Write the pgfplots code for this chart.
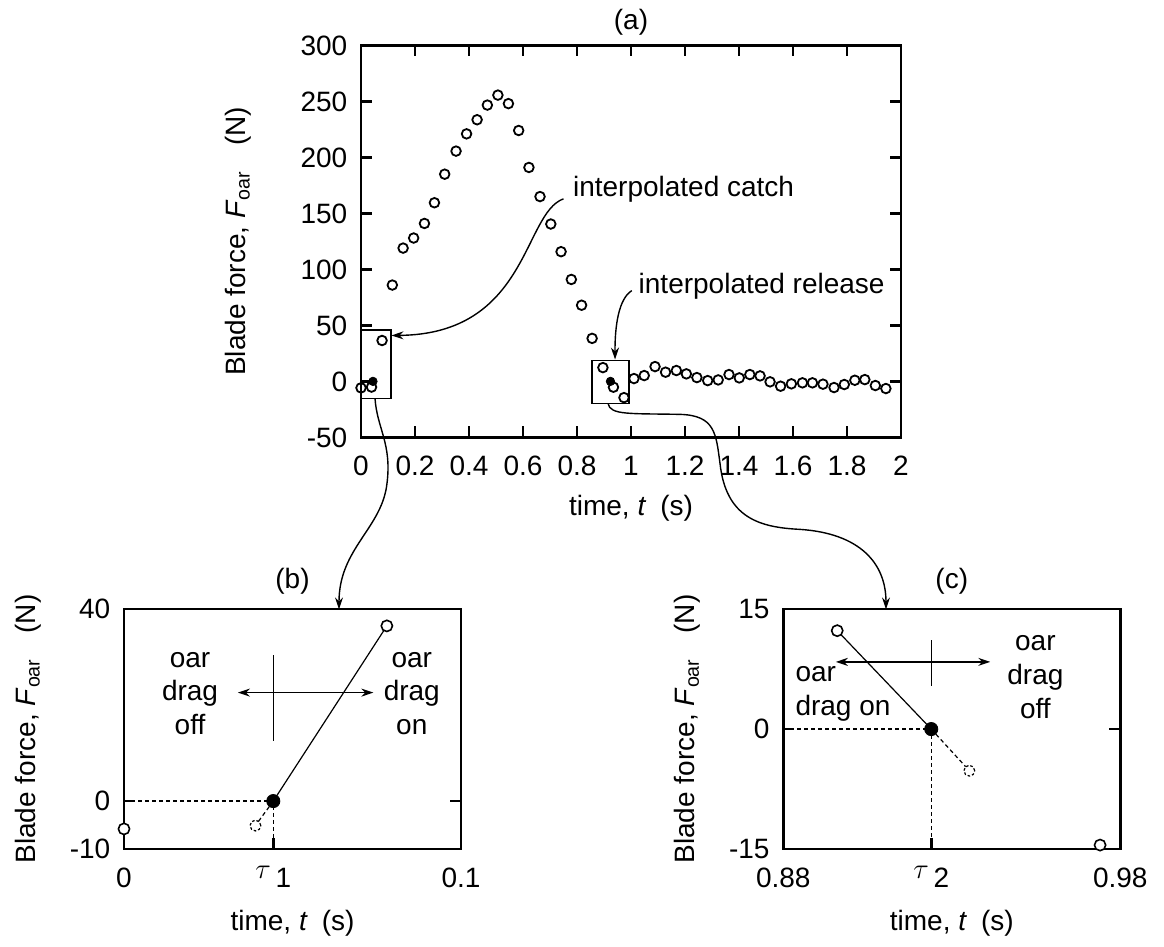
\documentclass[border=0pt]{standalone}
\usepackage{pgfplots}
\pgfplotsset{compat=1.18}
\usepackage{fontspec}
\setmainfont{Liberation Sans}
\usetikzlibrary{arrows.meta}

% shared look of the three panels
\pgfplotsset{
  panel/.style={
    scale only axis,
    clip=false,
    axis line style={line width=1.3pt},
    every tick/.style={black, line width=1.3pt},
    major tick length=5.5pt,
    tick align=inside,
    every axis title shift=0pt,
    title style={at={(0.5,1)}, anchor=center},
    xlabel style={at={(0.5,0)}, anchor=center},
    ylabel style={at={(0,0.5)}, anchor=center},
    xticklabel style={anchor=base, yshift=-19pt},
    yticklabel style={anchor=east, xshift=-2pt},
  },
}
\tikzset{
  ann/.style={line width=0.7pt},
  tip/.style={-{Stealth[length=6pt,width=4pt]}},
}

\begin{document}
\fontsize{14}{16.8}\selectfont
\begin{tikzpicture}
\path (0pt,0pt) rectangle (582pt,-471.5pt);

% ---------------- (a) ----------------
\begin{axis}[panel,
  at={(180.5pt,-217pt)}, anchor=south west,
  width=270pt, height=196pt,
  xmin=0, xmax=2, ymin=-50, ymax=300,
  xtick={0,0.2,0.4,0.6,0.8,1,1.2,1.4,1.6,1.8,2},
  xticklabels={0,0.2,0.4,0.6,0.8,1,1.2,1.4,1.6,1.8,2},
  ytick={-50,0,50,100,150,200,250,300},
  yticklabels={-50,0,50,100,150,200,250,300},
  title={(a)}, title style={yshift=11.5pt},
  xlabel={time, \textit{t}\hspace{0.5em}(s)}, xlabel style={yshift=-35.5pt},
  ylabel={Blade force, \textit{F}\textsubscript{oar}\hspace{0.9em}(N)},
  ylabel style={yshift=61.5pt},
]
\addplot[only marks, mark=o, mark size=2.4pt, line width=0.9pt] coordinates {
  (0,-5.8) (0.039,-5.1) (0.078,36.5) (0.116,86) (0.156,119) (0.195,128)
  (0.235,141) (0.272,159.5) (0.310,185) (0.352,205.6) (0.391,221)
  (0.430,233.6) (0.468,246.7) (0.507,255.6) (0.546,248) (0.584,224)
  (0.622,191) (0.663,165) (0.703,140.5) (0.741,115.8) (0.779,91)
  (0.817,68) (0.856,38.4) (0.896,12.3) (0.935,-5.2) (0.974,-14.5)
  (1.011,2.5) (1.049,5.2) (1.089,13.2) (1.128,8.2) (1.168,9.7)
  (1.205,6.7) (1.244,3.4) (1.284,0.7) (1.323,1.3) (1.363,6.1)
  (1.401,3.1) (1.440,6.1) (1.478,4.9) (1.515,-0.4) (1.554,-4.3)
  (1.594,-2.2) (1.635,-1.3) (1.672,-1.3) (1.711,-2.5) (1.752,-5.5)
  (1.790,-2.8) (1.829,1.0) (1.866,1.6) (1.905,-3.7) (1.944,-6.4)
};
\addplot[only marks, mark=*, mark size=2.1pt] coordinates {(0.0443,0) (0.9239,0)};

\draw[ann] (axis cs:0.002,-15.2) rectangle (axis cs:0.111,45.8);
\draw[ann] (axis cs:0.856,-19.6) rectangle (axis cs:0.993,18.5);
\draw[ann, tip] (axis cs:0.75,163) .. controls (axis cs:0.60,150) and (axis cs:0.62,42) .. (axis cs:0.113,41);
\node[anchor=base west, inner sep=0pt] at (axis cs:0.784,165) {interpolated catch};
\draw[ann, tip] (axis cs:1.003,81) .. controls (axis cs:0.955,74) and (axis cs:0.94,50) .. (axis cs:0.941,19.5);
\node[anchor=base west, inner sep=0pt] at (axis cs:1.027,78.6) {interpolated release};
\end{axis}

% ---------------- (b) ----------------
\begin{axis}[panel,
  at={(62pt,-422.85pt)}, anchor=south west,
  width=168.5pt, height=120pt,
  xmin=0, xmax=0.1, ymin=-10, ymax=40,
  xtick={0,0.0443,0.1},
  xticklabels={0,{\raisebox{0.3em}{$\tau$}\,1},0.1},
  ytick={-10,0,40}, yticklabels={-10,0,40},
  xtick pos=left,
  title={(b)}, title style={yshift=14pt},
  xlabel={time, \textit{t}\hspace{0.5em}(s)}, xlabel style={yshift=-37pt},
  ylabel={Blade force, \textit{F}\textsubscript{oar}\hspace{0.9em}(N)},
  ylabel style={yshift=48pt},
]
\draw[line width=0.6pt, dash pattern=on 2pt off 1.5pt]
  (axis cs:0,0) -- (axis cs:0.0443,0) -- (axis cs:0.0443,-10);
\addplot[line width=0.6pt, dash pattern=on 2pt off 1.5pt] coordinates {(0.0443,0) (0.039,-5.1)};
\addplot[line width=0.6pt] coordinates {(0.0443,0) (0.078,36.5)};
\addplot[only marks, mark=*, mark size=2.8pt, mark options={fill=white, line width=0.8pt}]
  coordinates {(0,-5.8) (0.078,36.5)};
\addplot[only marks, mark=*, mark size=2.7pt,
  mark options={fill=white, line width=0.6pt, dash pattern=on 1.3pt off 1pt}]
  coordinates {(0.039,-5.1)};
\addplot[only marks, mark=*, mark size=3.3pt] coordinates {(0.0443,0)};

\draw[ann] (axis cs:0.0443,12.6) -- (axis cs:0.0443,30.4);
\draw[ann, {Stealth[length=6pt,width=4pt]}-{Stealth[length=6pt,width=4pt]}]
  (axis cs:0.0338,22.6) -- (axis cs:0.074,22.6);
\node[align=center] at (axis cs:0.0196,22.4) {oar\\drag\\off};
\node[align=center] at (axis cs:0.0854,22.4) {oar\\drag\\on};
\end{axis}

% ---------------- (c) ----------------
\begin{axis}[panel,
  at={(391.65pt,-422.85pt)}, anchor=south west,
  width=168.5pt, height=120pt,
  xmin=0.88, xmax=0.98, ymin=-15, ymax=15,
  xtick={0.88,0.9239,0.98},
  xticklabels={0.88,{\raisebox{0.3em}{$\tau$}\,2},0.98},
  ytick={-15,0,15}, yticklabels={-15,0,15},
  xtick pos=left,
  title={(c)}, title style={yshift=14pt},
  xlabel={time, \textit{t}\hspace{0.5em}(s)}, xlabel style={yshift=-37pt},
  ylabel={Blade force, \textit{F}\textsubscript{oar}\hspace{0.9em}(N)},
  ylabel style={yshift=48pt},
]
\draw[line width=0.6pt, dash pattern=on 2pt off 1.5pt]
  (axis cs:0.88,0) -- (axis cs:0.9239,0) -- (axis cs:0.9239,-15);
\addplot[line width=0.6pt, dash pattern=on 2pt off 1.5pt] coordinates {(0.9239,0) (0.9352,-5.2)};
\addplot[line width=0.6pt] coordinates {(0.896,12.3) (0.9239,0)};
\addplot[only marks, mark=*, mark size=2.8pt, mark options={fill=white, line width=0.8pt}]
  coordinates {(0.896,12.3) (0.974,-14.5)};
\addplot[only marks, mark=*, mark size=2.7pt,
  mark options={fill=white, line width=0.6pt, dash pattern=on 1.3pt off 1pt}]
  coordinates {(0.9352,-5.2)};
\addplot[only marks, mark=*, mark size=3.3pt] coordinates {(0.9239,0)};

\draw[ann] (axis cs:0.9239,5.4) -- (axis cs:0.9239,11.1);
\draw[ann, {Stealth[length=6pt,width=4pt]}-{Stealth[length=6pt,width=4pt]}]
  (axis cs:0.8956,8.4) -- (axis cs:0.9414,8.4);
\node[align=left, anchor=west, inner sep=0pt] at (axis cs:0.8835,4.4) {oar\\drag on};
\node[align=center] at (axis cs:0.9548,6.5) {oar\\drag\\off};
\end{axis}

% links from the boxes in (a) down to (b) and (c), in pixel units
\begin{scope}[x=0.5pt, y=-0.5pt, ann]
\draw[tip] (375,395) .. controls (377,425) and (392,440) .. (387,480)
  .. controls (382,525) and (339,545) .. (339,606);
\draw[tip] (608,400) .. controls (610,412) and (630,410) .. (680,411)
  .. controls (715,412) and (716,430) .. (720,460)
  .. controls (726,515) and (760,524) .. (800,526)
  .. controls (860,530) and (886,560) .. (886,606);
\end{scope}
\end{tikzpicture}
\end{document}
